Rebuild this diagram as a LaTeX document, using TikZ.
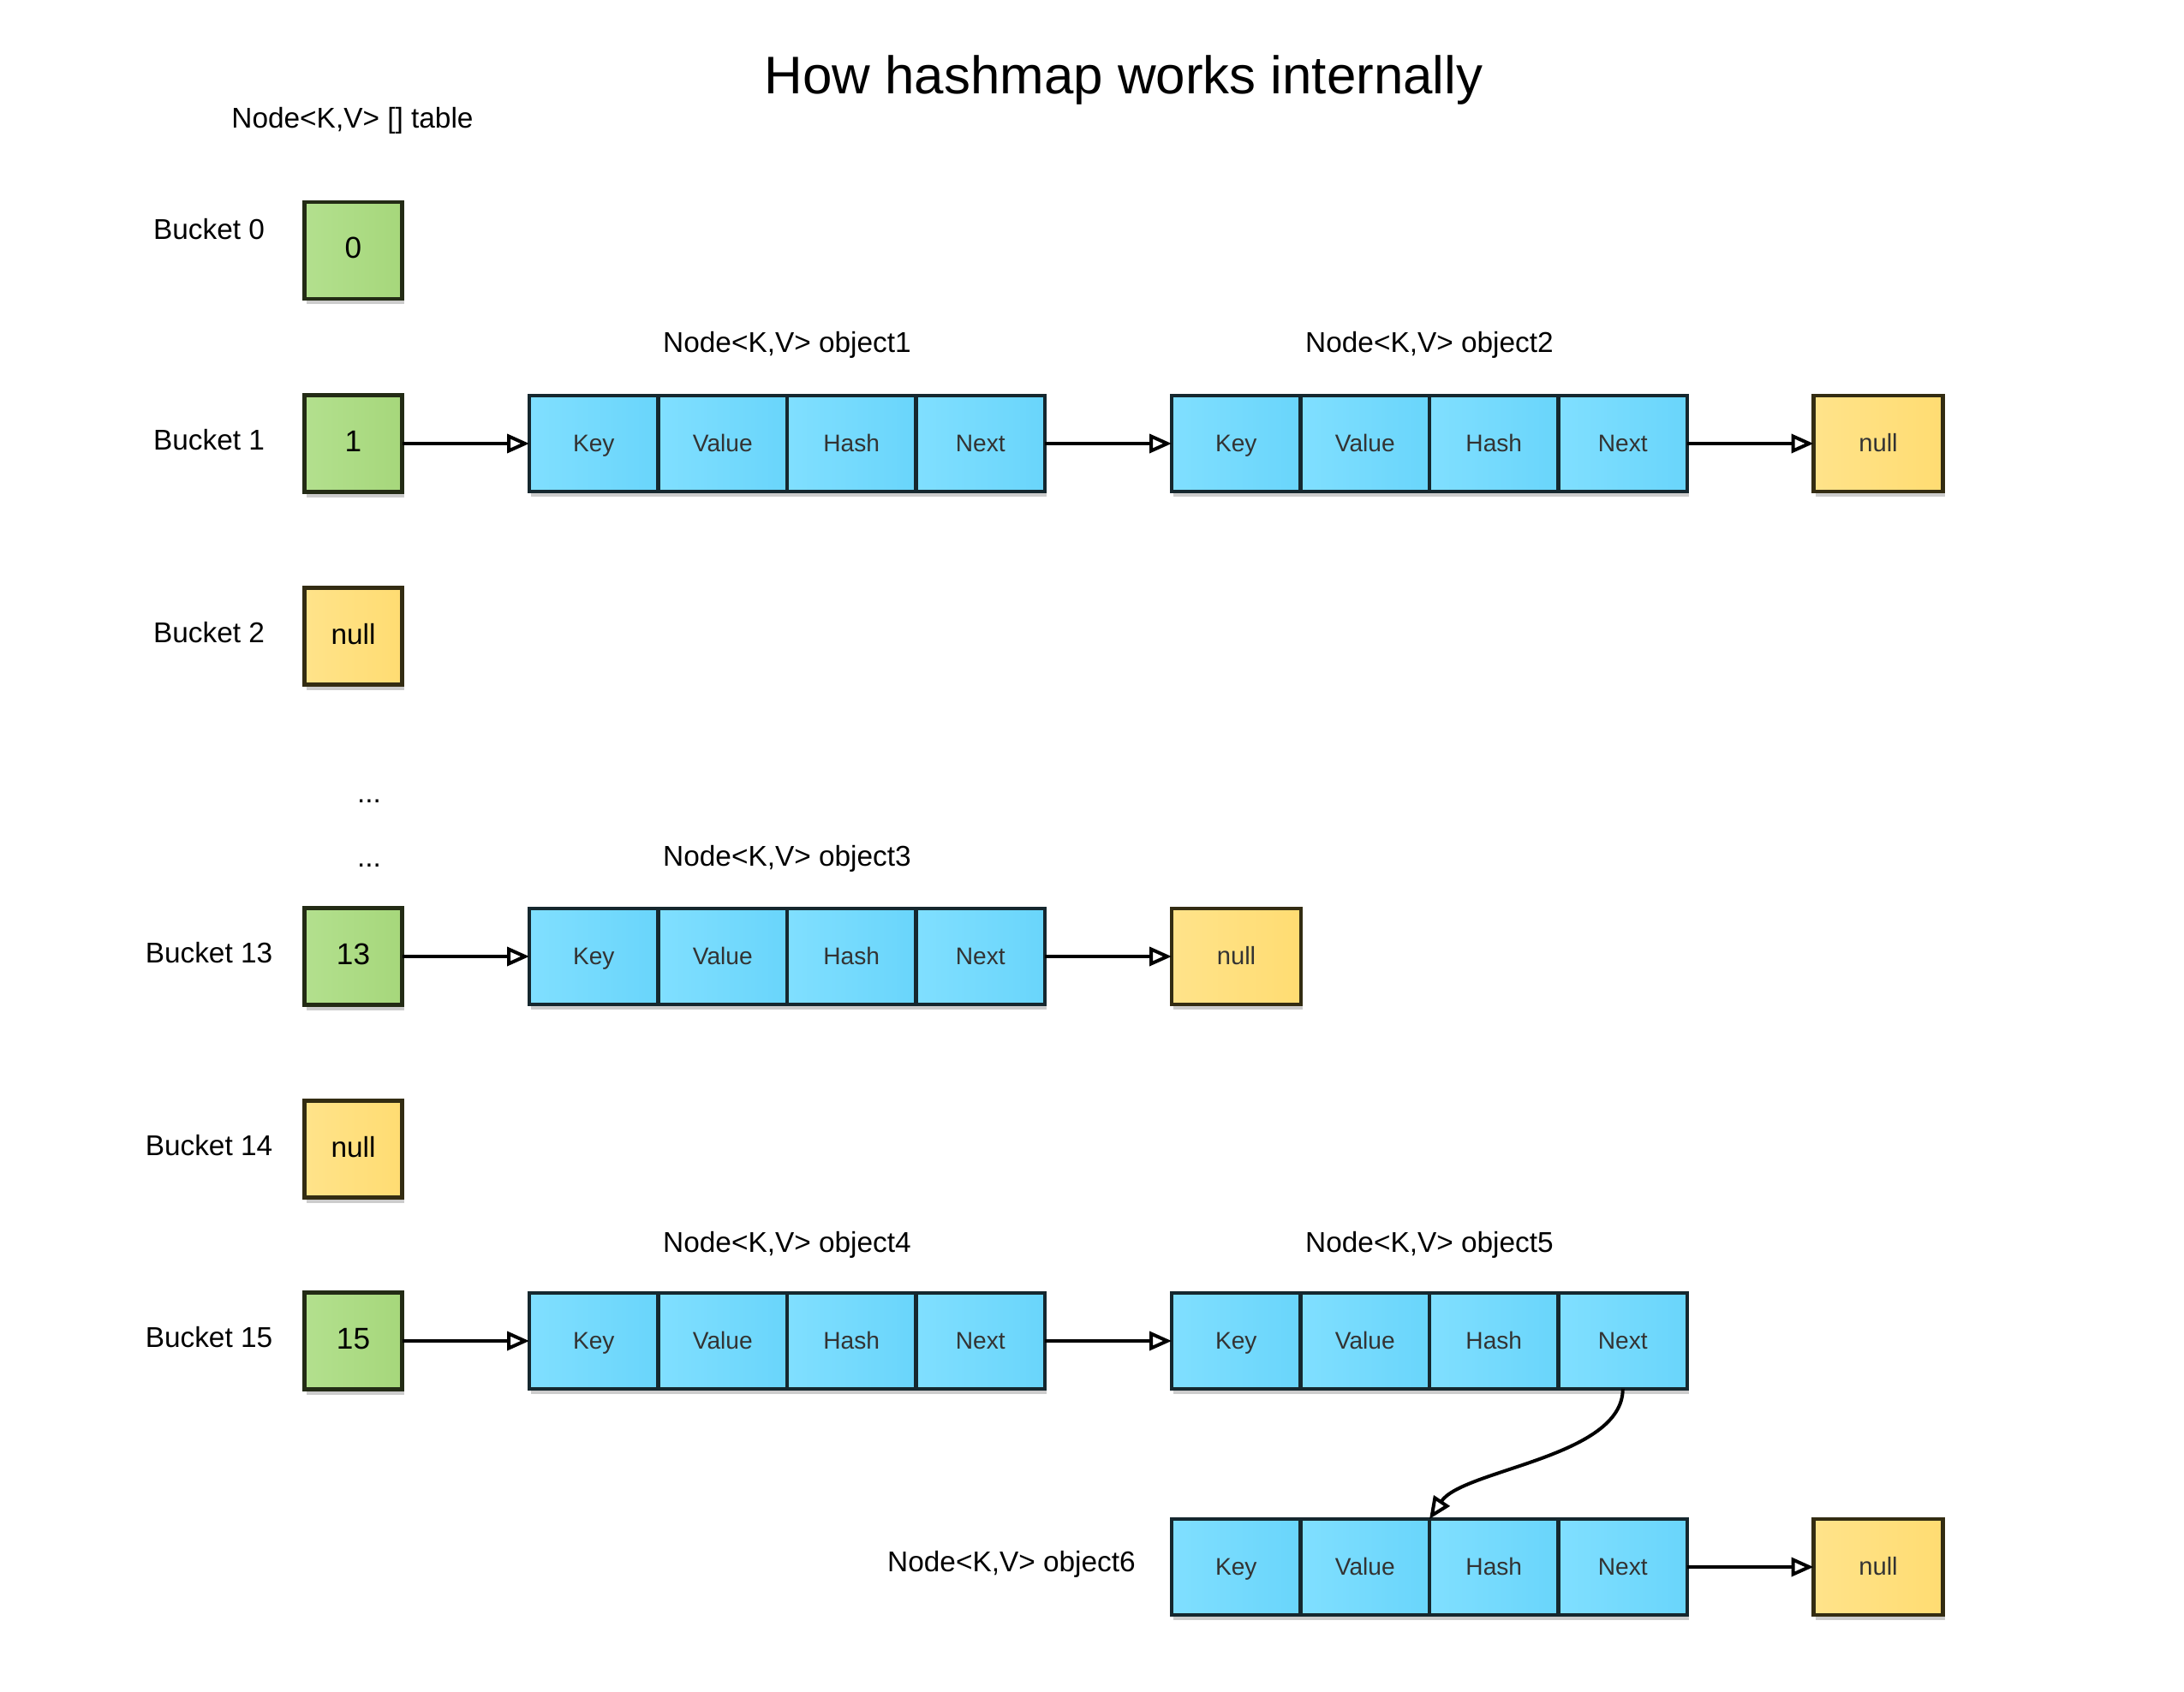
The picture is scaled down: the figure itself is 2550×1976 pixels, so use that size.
\documentclass[tikz,border=0pt]{standalone}
\usepackage{fontspec}
\setmainfont{Liberation Sans}
\usetikzlibrary{arrows.meta,shadows}
\definecolor{greenA}{HTML}{B3E08E}
\definecolor{greenB}{HTML}{A6D77B}
\definecolor{greenD}{HTML}{232B15}
\definecolor{blueA}{HTML}{80DFFF}
\definecolor{blueB}{HTML}{69D5FB}
\definecolor{blueD}{HTML}{15272E}
\definecolor{yelA}{HTML}{FFE38A}
\definecolor{yelB}{HTML}{FFDC72}
\definecolor{yelD}{HTML}{332C12}
\definecolor{celltext}{HTML}{333333}
\newcommand\hmobj[3]{%
  \node[cell] (#1k) at ({#2+75.25},#3) {Key};
  \node[cell] (#1v) at ({#2+225.75},#3) {Value};
  \node[cell] (#1h) at ({#2+376.25},#3) {Hash};
  \node[cell] (#1n) at ({#2+526.75},#3) {Next};
}
\begin{document}
\begin{tikzpicture}[x=0.1mm,y=-0.1mm,
  box/.style={draw, line width=0.45mm, inner sep=0pt, outer sep=0pt,
    text height=0.716em, text depth=0.2em,
    drop shadow={shadow xshift=0.2mm, shadow yshift=-0.6mm, opacity=0.2, fill=black}},
  gbox/.style={box, draw=greenD, left color=greenA, right color=greenB,
    minimum width=11.4mm, minimum height=11.3mm, font=\fontsize{10}{12}\selectfont},
  ybox/.style={box, draw=yelD, left color=yelA, right color=yelB,
    minimum width=11.4mm, minimum height=11.3mm, font=\fontsize{9.5}{11}\selectfont},
  cell/.style={box, draw=blueD, left color=blueA, right color=blueB,
    minimum width=15.05mm, minimum height=11.2mm, text=celltext, font=\fontsize{8}{10}\selectfont},
  nullbox/.style={box, draw=yelD, left color=yelA, right color=yelB,
    minimum width=15.1mm, minimum height=11.2mm, text=celltext, font=\fontsize{8.3}{10}\selectfont},
  lbl/.style={inner sep=0pt, font=\fontsize{9.5}{11}\selectfont},
  link/.style={line width=0.4mm, -{Triangle[open, length=2.6mm, width=2.2mm, line width=0.4mm]}}
]
\useasboundingbox[fill=white] (0,0) rectangle (2550,1976);

\node[inner sep=0pt, font=\fontsize{17.6}{20}\selectfont] (title) at (1312,94) {How hashmap works internally};
\node[lbl] (table) at (411.5,141) {Node<K,V> [] table};

% buckets
\node[gbox] (b0) at (412.5,292.5) {0};
\node[lbl] (l0) at (244,268) {Bucket 0};
\node[gbox] (b1) at (412.5,518) {1};
\node[lbl] (l1) at (244,514) {Bucket 1};
\node[ybox] (b2) at (412.5,743) {null};
\node[lbl] (l2) at (244,739) {Bucket 2};
\node[lbl] (d1) at (431,936) {...};
\node[lbl] (d2) at (431,1011) {...};
\node[gbox] (b13) at (412.5,1117) {13};
\node[lbl] (l13) at (244,1113) {Bucket 13};
\node[ybox] (b14) at (412.5,1342) {null};
\node[lbl] (l14) at (244,1338) {Bucket 14};
\node[gbox] (b15) at (412.5,1566) {15};
\node[lbl] (l15) at (244,1562) {Bucket 15};

% objects
\hmobj{oa}{618}{518}
\hmobj{ob}{1368}{518}
\node[nullbox] (na) at (2193,518) {null};
\hmobj{oc}{618}{1117}
\node[nullbox] (nc) at (1443.5,1117) {null};
\hmobj{od}{618}{1566}
\hmobj{oe}{1368}{1566}
\hmobj{of}{1368}{1830}
\node[nullbox] (nf) at (2193,1830) {null};

% object labels
\node[lbl] (t1) at (919,403) {Node<K,V> object1};
\node[lbl] (t2) at (1669,403) {Node<K,V> object2};
\node[lbl] (t3) at (919,1003) {Node<K,V> object3};
\node[lbl] (t4) at (919,1454) {Node<K,V> object4};
\node[lbl] (t5) at (1669,1454) {Node<K,V> object5};
\node[lbl] (t6) at (1181,1827) {Node<K,V> object6};

% links
\draw[link] (b1.east) -- (oak.west);
\draw[link] (oan.east) -- (obk.west);
\draw[link] (obn.east) -- (na.west);
\draw[link] (b13.east) -- (ock.west);
\draw[link] (ocn.east) -- (nc.west);
\draw[link] (b15.east) -- (odk.west);
\draw[link] (odn.east) -- (oek.west);
\draw[link] (oen.south) .. controls +(0,80) and +(39,-58) .. (ofv.north east);
\draw[link] (ofn.east) -- (nf.west);
\end{tikzpicture}
\end{document}
